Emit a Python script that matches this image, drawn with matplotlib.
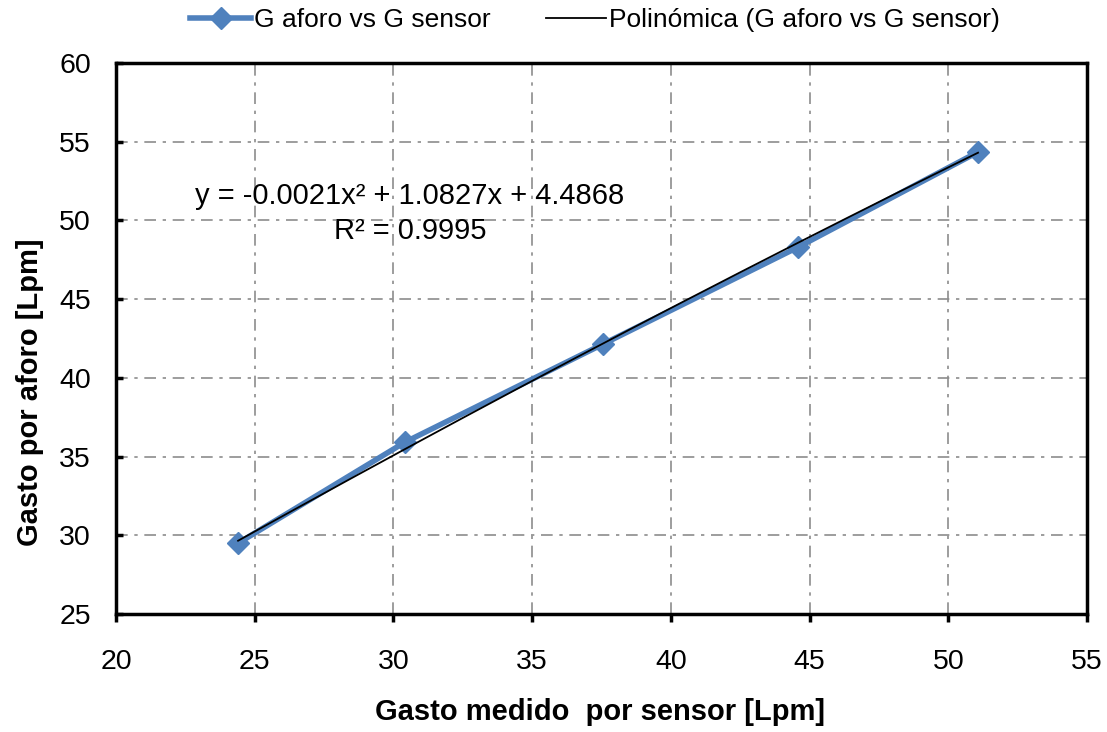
import numpy as np
import matplotlib
matplotlib.use("Agg")
import matplotlib.pyplot as plt

plt.rcParams['font.family'] = ['Liberation Sans', 'DejaVu Sans']

sensor = [24.40, 30.42, 37.56, 44.59, 51.07]
aforo = [29.50, 35.92, 42.15, 48.31, 54.35]
coef = [-0.0021, 1.0827, 4.4868]
eq_text = "y = -0.0021x² + 1.0827x + 4.4868\nR² = 0.9995"

fig = plt.figure(figsize=(11.07, 7.32), dpi=100)
ax = fig.add_axes([0.1048, 0.1612, 0.8772, 0.7527])

ax.plot(sensor, aforo, color='#4F81BD', lw=4, marker='D', ms=11,
        mec='#4F81BD', mfc='#4F81BD', label='G aforo vs G sensor', zorder=3)
xt = np.linspace(min(sensor), max(sensor), 200)
ax.plot(xt, np.polyval(coef, xt), color='black', lw=1.3,
        label='Polinómica (G aforo vs G sensor)', zorder=4)

ax.set_xlim(20, 55)
ax.set_ylim(25, 60)
ax.set_xticks(range(20, 56, 5))
ax.set_yticks(range(25, 61, 5))
ax.grid(True, color='#8c8c8c', ls=(0, (7, 4, 2, 4)), lw=1.2)
ax.set_axisbelow(True)
for s in ax.spines.values():
    s.set_linewidth(2.5)
    s.set_color('black')
ax.tick_params(axis='both', labelsize=20.5, width=2.5)
ax.tick_params(axis='x', length=6, direction='out', pad=19)
ax.tick_params(axis='y', length=5, direction='in', pad=18)

ax.set_xlabel('Gasto medido  por sensor [Lpm]', fontsize=21, fontweight='bold', va='center')
ax.xaxis.set_label_coords(0.498, -0.178)
ax.set_ylabel('Gasto por aforo [Lpm]', fontsize=21, fontweight='bold', va='center', ha='center')
ax.yaxis.set_label_coords(-0.0886, 0.403)

ax.text(30.6, 50.44, eq_text, ha='center', va='center', fontsize=21, linespacing=1.3)

fig.legend(loc='center', bbox_to_anchor=(595 / 1107, 1 - 20 / 732), ncol=2, frameon=False,
           fontsize=19, handlelength=2.3, columnspacing=2.1, handletextpad=0.1,
           borderaxespad=0)

fig.savefig('out.png', dpi=100)
